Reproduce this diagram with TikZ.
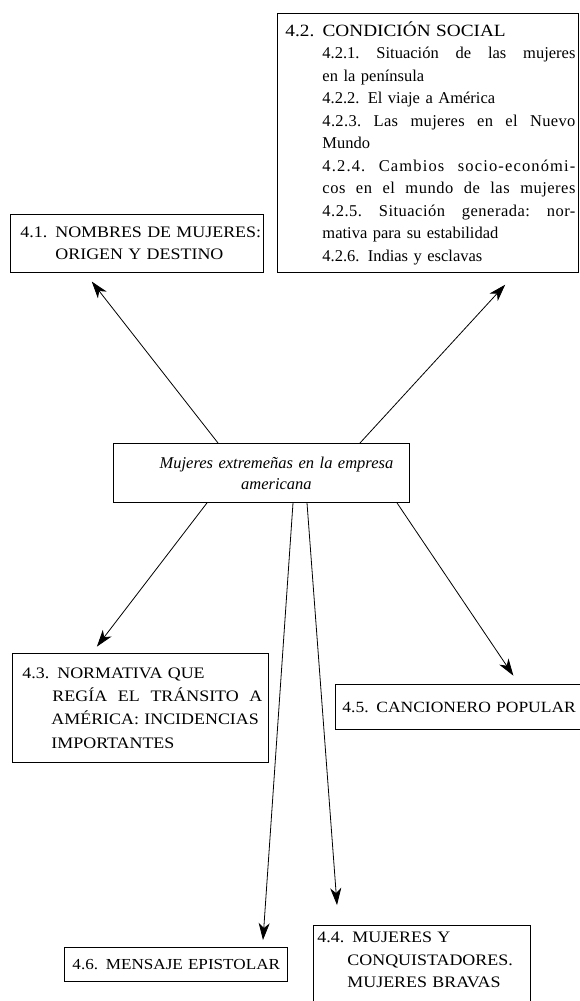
\documentclass[tikz,border=0pt]{standalone}
\usepackage{fontspec}
\setmainfont{Liberation Serif}
\newfontfamily\capfont{Liberation Serif}[FakeStretch=1.12]
\usetikzlibrary{arrows.meta}
\newcommand{\jline}[2]{\hbox to #1{#2}}
\newcommand{\lsp}[1]{\addfontfeature{LetterSpace=#1}}
\tikzset{
  box/.style={draw, line width=0.9pt, inner xsep=0pt, inner ysep=0pt, align=left, anchor=north west},
  capbox/.style={box, font=\capfont\fontsize{16}{22.5}\selectfont},
  arr/.style={line width=0.8pt, -{Stealth[length=17pt,width=11pt,inset=5pt]}}
}
\begin{document}
\begin{tikzpicture}[x=1pt,y=-1pt]
\useasboundingbox (0,0) rectangle (579,1001);
\fill[white] (0,0) rectangle (579,1001);

% central node
\node[box, align=center, text width=296pt, minimum height=59pt,
      font=\fontsize{16.5}{21}\selectfont\itshape] (c) at (113,443)
  {\hspace*{30pt}Mujeres extremeñas en la empresa\\\hspace*{30pt}americana};

% 4.1
\node[capbox, text width=253pt, minimum height=58pt] (n41) at (10,214)
  {\hspace*{10pt}4.1. NOMBRES DE MUJERES:\\
   \hspace*{45pt}ORIGEN Y DESTINO};

% 4.2
\node[box, text width=301pt, minimum height=259pt,
      font=\fontsize{16.5}{22.5}\selectfont] (n42) at (277,13)
  {\hspace*{8pt}{\capfont\fontsize{17.2}{22.5}\selectfont 4.2. CONDICIÓN SOCIAL}\\
   \hspace*{45pt}\jline{253pt}{4.2.1.\hfill Situación\hfill de\hfill las\hfill mujeres}\\
   \hspace*{45pt}en la península\\
   \hspace*{45pt}4.2.2. El viaje a América\\
   \hspace*{45pt}\jline{253pt}{\lsp{2}4.2.3.\hfill Las\hfill mujeres\hfill en\hfill el\hfill Nuevo}\\
   \hspace*{45pt}Mundo\\
   \hspace*{45pt}\jline{253pt}{\lsp{7}4.2.4.\hfill Cambios\hfill socio-económi-}\\
   \hspace*{45pt}\jline{253pt}{\lsp{3}cos\hfill en\hfill el\hfill mundo\hfill de\hfill las\hfill mujeres}\\
   \hspace*{45pt}\jline{253pt}{\lsp{3}4.2.5.\hfill Situación\hfill generada:\hfill nor-}\\
   \hspace*{45pt}mativa para su estabilidad\\
   \hspace*{45pt}4.2.6. Indias y esclavas};

% 4.3
\node[capbox, text width=256pt, minimum height=109pt,
      font=\capfont\fontsize{16}{23.3}\selectfont] (n43) at (12,653)
  {\hspace*{10pt}4.3. NORMATIVA QUE\\
   \hspace*{40pt}\jline{210pt}{REGÍA\hfill EL\hfill TRÁNSITO\hfill A}\\
   \hspace*{39pt}AMÉRICA: INCIDENCIAS\\
   \hspace*{39pt}IMPORTANTES};

% 4.5
\node[capbox, text width=250pt, minimum height=45pt,
      font=\capfont\fontsize{15.6}{22.5}\selectfont] (n45) at (335,684)
  {\hspace*{7pt}\mbox{4.5. CANCIONERO POPULAR}};

% 4.6
\node[capbox, text width=223pt, minimum height=34pt,
      font=\capfont\fontsize{15.3}{22.5}\selectfont] (n46) at (64,947)
  {\hspace*{8pt}\mbox{4.6. MENSAJE EPISTOLAR}};

% 4.4
\node[capbox, text width=217pt, minimum height=120pt] (n44) at (313,925)
  {\hspace*{4pt}4.4. MUJERES Y\\
   \hspace*{34pt}CONQUISTADORES.\\
   \hspace*{34pt}MUJERES BRAVAS\\
   \rule{0pt}{50pt}};

% connectors
\draw[arr, shorten >=11pt] ([xshift=105pt]c.north west) -- ([xshift=75pt]n41.south west);
\draw[arr, shorten >=16pt] ([xshift=247pt]c.north west) -- ([xshift=239pt]n42.south west);
\draw[arr, shorten >=8pt] ([xshift=94pt]c.south west) -- ([xshift=80pt]n43.north west);
\draw[arr, shorten >=10pt] ([xshift=284pt]c.south west) -- ([xshift=184pt]n45.north west);
\draw[arr, shorten >=7pt] ([xshift=180pt]c.south west) -- ([xshift=198.5pt]n46.north west);
\draw[arr, shorten >=20pt] ([xshift=194pt]c.south west) -- ([xshift=25.5pt]n44.north west);
\end{tikzpicture}
\end{document}
